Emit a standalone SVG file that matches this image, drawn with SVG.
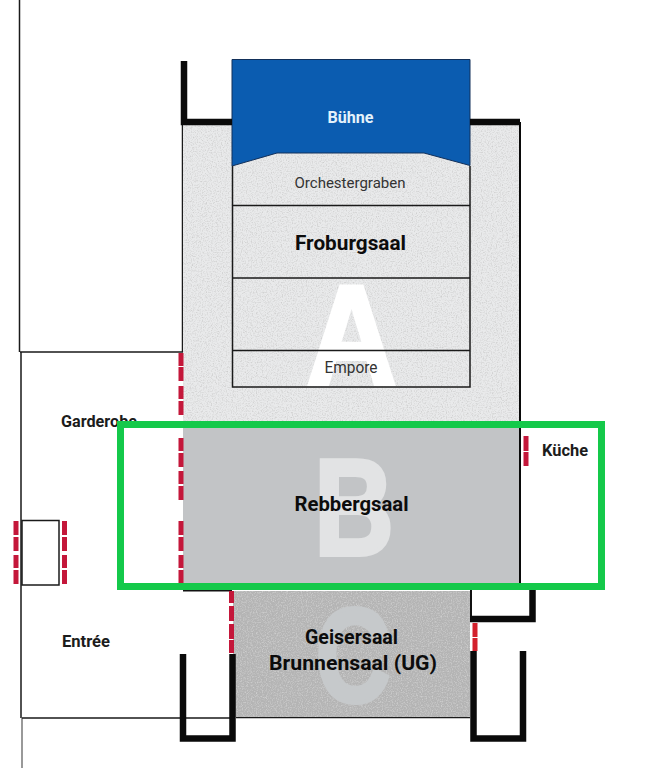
<svg xmlns="http://www.w3.org/2000/svg" width="648" height="768" viewBox="0 0 648 768">
<style>
text{font-family:"Roboto","Liberation Sans",sans-serif;text-anchor:middle;fill:#1c1c1c}
.b{font-weight:700}
.r{font-weight:400;fill:#333}
.w{font-family:"Liberation Sans",sans-serif;font-weight:700;stroke-width:4;stroke-miterlimit:2}
.thin{fill:none;stroke:#1a1a1a;stroke-width:1.5}
.wall{fill:none;stroke:#0a0a0a;stroke-width:6.5;stroke-linejoin:miter}
.door rect{fill:#c4173a;width:5px}
</style>
<defs>
<filter id="speck" x="0" y="0" width="100%" height="100%">
<feTurbulence type="fractalNoise" baseFrequency="0.8" numOctaves="2" seed="4"/>
<feColorMatrix values="0 0 0 0 0.62  0 0 0 0 0.62  0 0 0 0 0.62  2.4 0 0 0 -1.05"/>
<feComposite in2="SourceGraphic" operator="in" result="n"/>
<feMerge><feMergeNode in="SourceGraphic"/><feMergeNode in="n"/></feMerge>
</filter>
</defs>
<rect width="648" height="768" fill="#fff"/>

<g id="outline">
<path class="thin" d="M19.500 0V352M21 352V718" />
<path d="M22 718V768" fill="none" stroke="#777" stroke-width="1.5"/>
<path class="thin" d="M20 352H182.500V124M22 718H232M470 717.500H236"/>
</g>

<g id="saal-a">
<rect x="183" y="124" width="337" height="298" fill="#e9eaeb" filter="url(#speck)"/>
<text class="w" x="351.500" y="384" font-size="141" textLength="90" lengthAdjust="spacingAndGlyphs" style="fill:#fff;stroke:#fff">A</text>
<rect x="232.500" y="205.500" width="237.500" height="181.500" class="thin"/>
<path class="thin" d="M232.500 278H470M232.500 350.500H470"/>
<path d="M232.500 166V205M470 166V205" class="thin"/>
<text class="r" x="350" y="188" font-size="15.500" textLength="111" lengthAdjust="spacingAndGlyphs">Orchestergraben</text>
<text class="b" x="350.500" y="250" font-size="21" textLength="111" lengthAdjust="spacingAndGlyphs" style="fill:#0c0c0c">Froburgsaal</text>
<text class="r" x="351" y="373" font-size="16" textLength="53" lengthAdjust="spacingAndGlyphs">Empore</text>
</g>

<g id="buehne">
<path d="M232 59.500H470V165.500L424 153H277L232 166Z" fill="#0b5cb0" stroke="#12305a" stroke-width="1"/>
<text class="b" x="350.500" y="122.500" font-size="16" textLength="46" lengthAdjust="spacingAndGlyphs" style="fill:#e4f2fb">Bühne</text>
</g>

<g id="rebbergsaal">
<rect x="183" y="428" width="337" height="157" fill="#c2c4c6"/>
<text class="w" x="354" y="555" font-size="137" textLength="80" lengthAdjust="spacingAndGlyphs" style="fill:#e2e3e4;stroke:#e2e3e4">B</text>
<text class="b" x="351.500" y="511" font-size="21" textLength="114" lengthAdjust="spacingAndGlyphs" style="fill:#0c0c0c">Rebbergsaal</text>
</g>

<g id="geisersaal">
<rect x="233" y="591" width="237" height="126" fill="#b4b4b4" filter="url(#speck)"/>
<text class="w" x="353" y="702" font-size="134" textLength="75" lengthAdjust="spacingAndGlyphs" style="fill:#c6c9cb;stroke:#c6c9cb">C</text>
<text class="b" x="351.500" y="644" font-size="21" textLength="93" lengthAdjust="spacingAndGlyphs" style="fill:#0c0c0c">Geisersaal</text>
<text class="b" x="353" y="670" font-size="21" textLength="168" lengthAdjust="spacingAndGlyphs" style="fill:#0c0c0c">Brunnensaal (UG)</text>
</g>

<g id="garderobe"><text class="b" x="99" y="427" font-size="16" textLength="76" lengthAdjust="spacingAndGlyphs">Garderobe</text></g>
<g id="entree"><text class="b" x="86" y="647" font-size="16" textLength="48" lengthAdjust="spacingAndGlyphs">Entrée</text></g>
<g id="kueche"><text class="b" x="565" y="455.500" font-size="16" textLength="46" lengthAdjust="spacingAndGlyphs">Küche</text></g>
<g id="windfang"><rect x="22" y="520.500" width="37" height="64.500" class="thin"/></g>

<g id="walls">
<path class="wall" d="M184 61V122H232M470 122H520"/>
<path d="M520 122V585" fill="none" stroke="#0a0a0a" stroke-width="2"/>
<path d="M183 590.500H232" fill="none" stroke="#111" stroke-width="2"/>
<path d="M471 590V618" fill="none" stroke="#111" stroke-width="2"/>
<path class="wall" d="M532.500 590V619H470"/>
<path class="wall" d="M183 654V738.500H232.500V654"/>
<path class="wall" d="M473.500 651V738.500H523V651"/>
</g>

<g id="doors" class="door">
<rect x="178.500" y="353" height="13"/><rect x="178.500" y="367" height="14"/><rect x="178.500" y="386" height="13"/><rect x="178.500" y="401" height="14"/>
<rect x="178.500" y="438" height="13"/><rect x="178.500" y="453" height="14"/><rect x="178.500" y="471" height="13"/><rect x="178.500" y="486" height="14"/>
<rect x="178.500" y="521" height="14"/><rect x="178.500" y="537" height="14"/><rect x="178.500" y="555" height="13"/><rect x="178.500" y="570" height="13"/>
<rect x="13.500" y="521" height="14"/><rect x="13.500" y="537" height="14"/><rect x="13.500" y="555" height="13"/><rect x="13.500" y="570" height="14"/>
<rect x="62" y="521" height="14"/><rect x="62" y="537" height="14"/><rect x="62" y="555" height="13"/><rect x="62" y="570" height="14"/>
<rect x="523.500" y="436" height="15"/><rect x="523.500" y="452" height="14"/>
<rect x="229" y="591" height="12"/><rect x="229" y="606" height="15"/><rect x="229" y="624" height="15"/><rect x="229" y="640" height="13"/>
<rect x="472.500" y="623" height="14" style="fill:#d3202c"/><rect x="472.500" y="638" height="13" style="fill:#d3202c"/>
</g>

<g id="highlight"><rect x="120.500" y="424.500" width="481" height="162" fill="none" stroke="#14c94a" stroke-width="7"/></g>
</svg>
